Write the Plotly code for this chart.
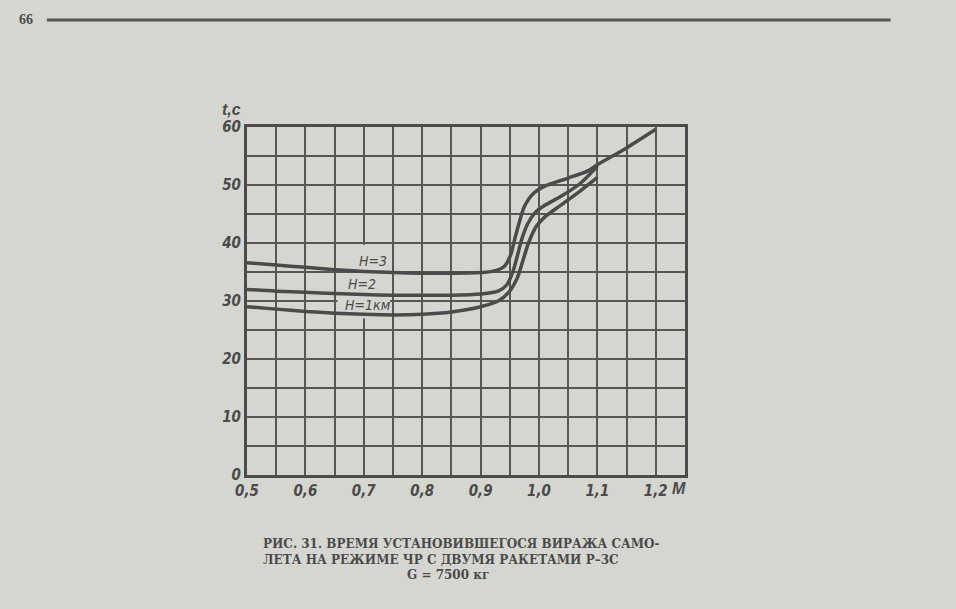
import plotly.graph_objects as go

# ---- data ----
M_H3 = [0.5, 0.55, 0.6, 0.65, 0.7, 0.75, 0.8, 0.85, 0.9, 0.92, 0.94, 0.951, 0.958, 0.966, 0.975, 0.99, 1.01, 1.05, 1.083, 1.1, 1.15, 1.2]
T_H3 = [36.6, 36.2, 35.8, 35.4, 35.1, 34.9, 34.8, 34.8, 34.9, 35.1, 35.9, 37.8, 40.5, 43.5, 46.3, 48.5, 49.8, 51.2, 52.4, 53.5, 56.4, 59.6]

M_H2 = [0.5, 0.55, 0.6, 0.65, 0.7, 0.75, 0.8, 0.85, 0.9, 0.93, 0.945, 0.955, 0.963, 0.97, 0.98, 0.993, 1.01, 1.037, 1.071, 1.094, 1.1]
T_H2 = [32.0, 31.7, 31.5, 31.3, 31.1, 31.0, 31.0, 31.0, 31.2, 31.7, 32.8, 35.0, 37.8, 40.5, 43.2, 45.2, 46.5, 48.0, 50.3, 52.6, 53.3]

M_H1 = [0.5, 0.55, 0.6, 0.65, 0.7, 0.75, 0.8, 0.85, 0.9, 0.93, 0.948, 0.962, 0.972, 0.982, 0.995, 1.01, 1.037, 1.071, 1.1]
T_H1 = [29.0, 28.6, 28.2, 27.9, 27.7, 27.6, 27.7, 28.1, 29.0, 30.0, 31.5, 33.8, 36.8, 40.0, 42.8, 44.5, 46.5, 49.0, 51.3]

X_TICKS = [0.5, 0.55, 0.6, 0.65, 0.7, 0.75, 0.8, 0.85, 0.9, 0.95, 1.0, 1.05, 1.1, 1.15, 1.2, 1.25]
X_TEXT = ["0,5", "", "0,6", "", "0,7", "", "0,8", "", "0,9", "", "1,0", "", "1,1", "", "1,2", ""]
Y_TICKS = [0, 5, 10, 15, 20, 25, 30, 35, 40, 45, 50, 55, 60]
Y_TEXT = ["0", "", "10", "", "20", "", "30", "", "40", "", "50", "", "60"]

LABELS = ["H=3", "H=2", "H=1км"]
LABEL_M = [0.715, 0.697, 0.707]
LABEL_T = [36.9, 33.0, 29.3]

PAPER = "#d6d6d1"
INK = "#4b4b4b"
GRID = "#575757"

W, H = 956, 609
L, T, PW, PH = 247, 127, 437.6, 348


def px(xp):
    return (xp - L) / PW


def py(yp):
    return (T + PH - yp) / PH


fig = go.Figure()
for m, t in [(M_H3, T_H3), (M_H2, T_H2), (M_H1, T_H1)]:
    fig.add_trace(go.Scatter(x=m, y=t, mode="lines",
                             line=dict(color=INK, width=3.5, shape="spline", smoothing=0.8),
                             showlegend=False, hoverinfo="skip"))

tick_font = dict(family="Liberation Sans Narrow, DejaVu Sans Condensed, sans-serif",
                 size=15, color=INK, style="italic", weight="bold")

fig.update_layout(
    width=W, height=H,
    margin=dict(l=L, r=W - L - PW, t=T, b=H - T - PH),
    paper_bgcolor=PAPER, plot_bgcolor=PAPER,
    xaxis=dict(range=[0.5, 1.25], tickvals=X_TICKS, ticktext=X_TEXT,
               showgrid=True, gridcolor=GRID, gridwidth=2,
               showline=True, linecolor=INK, linewidth=3, mirror=True,
               ticks="", tickfont=tick_font, zeroline=False),
    yaxis=dict(range=[0, 60], tickvals=Y_TICKS, ticktext=Y_TEXT,
               showgrid=True, gridcolor=GRID, gridwidth=2,
               showline=True, linecolor=INK, linewidth=3, mirror=True,
               ticks="", tickfont=tick_font, zeroline=False),
)

# gaps in the grid around the curve labels (paper-coloured patches between grid and curves)
fig.add_shape(type="rect", xref="x", yref="y", x0=0.693, x1=0.707, y0=27.0, y1=39.7,
              fillcolor=PAPER, line=dict(width=0), layer="between")
fig.add_shape(type="rect", xref="x", yref="y", x0=0.655, x1=0.745, y0=29.5, y1=30.5,
              fillcolor=PAPER, line=dict(width=0), layer="between")

lab_font = dict(family="Liberation Sans Narrow, DejaVu Sans Condensed, sans-serif",
                size=14, color=INK, style="italic")
for s, m, t in zip(LABELS, LABEL_M, LABEL_T):
    fig.add_annotation(x=m, y=t, xref="x", yref="y", text=s, showarrow=False, font=lab_font,
                       xanchor="center", yanchor="middle")

# axis names
fig.add_annotation(x=px(232), y=py(109), xref="paper", yref="paper", text="t,с", showarrow=False,
                   xanchor="center", yanchor="middle",
                   font=dict(family="Liberation Sans Narrow, sans-serif", size=16, color=INK,
                             style="italic", weight="bold"))
fig.add_annotation(x=px(679), y=py(488), xref="paper", yref="paper", text="М", showarrow=False,
                   xanchor="center", yanchor="middle",
                   font=dict(family="Liberation Sans Narrow, sans-serif", size=16, color=INK,
                             style="italic", weight="bold"))

# page header
fig.add_annotation(x=px(26), y=py(20), xref="paper", yref="paper", text="66",
                   showarrow=False, xanchor="center", yanchor="middle",
                   font=dict(family="Liberation Serif, serif", size=14, color=INK, weight="bold"))
fig.add_shape(type="line", xref="paper", yref="paper",
              x0=px(47), x1=px(890), y0=py(20), y1=py(20),
              line=dict(color="#555555", width=3))

# caption
cap_font = dict(family="DejaVu Serif, Liberation Serif, serif", size=12, color=INK, weight="bold")
fig.add_annotation(x=px(261), y=py(552), xref="paper", yref="paper",
                   xanchor="left", yanchor="middle", align="left", showarrow=False, font=cap_font,
                   text="РИС. 31. ВРЕМЯ УСТАНОВИВШЕГОСЯ ВИРАЖА САМО-<br>"
                        "ЛЕТА НА РЕЖИМЕ ЧР С ДВУМЯ РАКЕТАМИ Р–3С")
fig.add_annotation(x=px(448), y=py(575), xref="paper", yref="paper",
                   xanchor="center", yanchor="middle", showarrow=False, font=cap_font,
                   text="G = 7500 кг")

fig.write_html(
    "out.html",
    config={"displayModeBar": False},
    post_script=("document.body.style.margin='0';document.body.style.padding='0';"
                 "document.body.style.overflow='hidden';"
                 "document.documentElement.style.background='" + PAPER + "';"
                 "document.body.style.background='" + PAPER + "';"),
)
